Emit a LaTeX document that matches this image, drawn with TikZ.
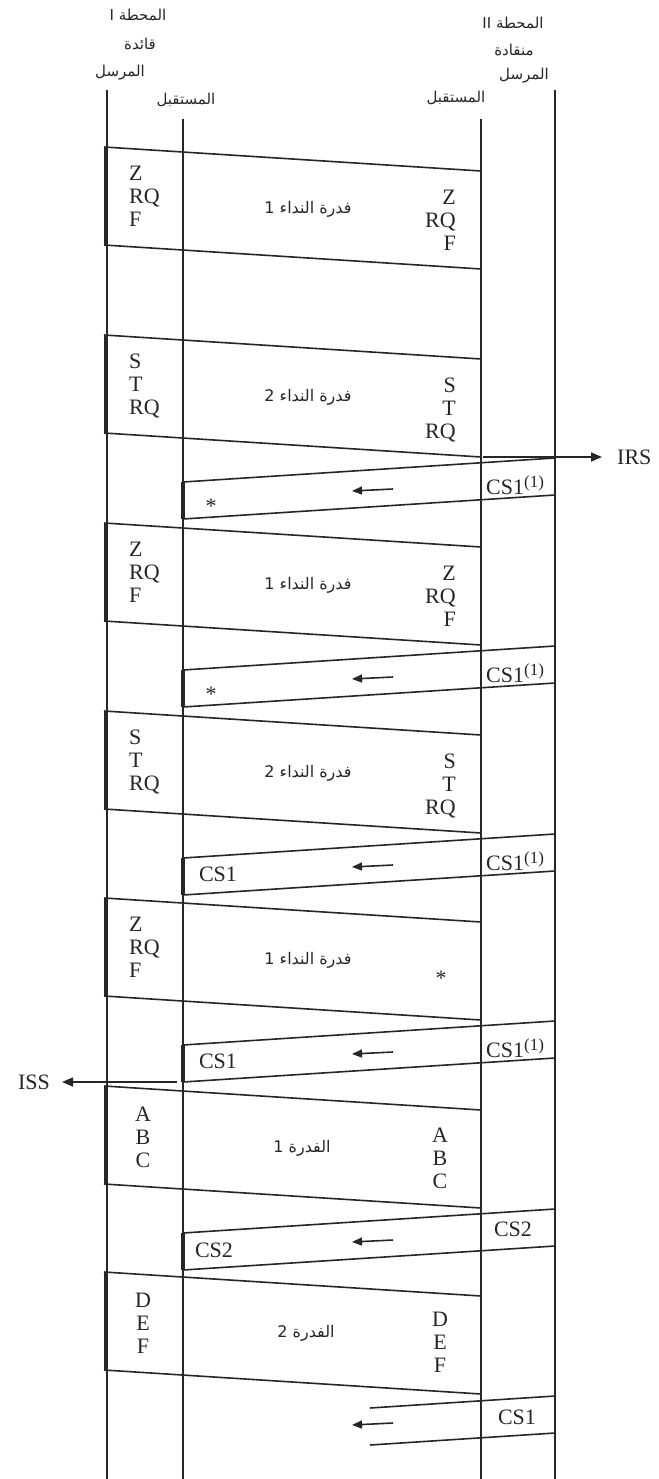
\documentclass[tikz,border=0pt]{standalone}
\usepackage{fontspec}
\setmainfont{Liberation Serif}
\newfontfamily\arabicfont[Script=Arabic]{DejaVu Sans}
\TeXXeTstate=1
\usetikzlibrary{arrows.meta}

\newcommand{\artext}[1]{{\arabicfont\beginR #1\endR}}
\newcommand{\supone}{\raisebox{7pt}{\fontsize{17}{17}\selectfont(1)}}

% frame sent by station I (sender) to station II (receiver)
\newcommand{\callframe}[2]{%
  \coordinate (#1-tl) at (104,#2);
  \coordinate (#1-tr) at (481,#2+24);
  \coordinate (#1-bl) at (104,#2+98);
  \coordinate (#1-br) at (481,#2+122);
  \coordinate (#1-bt) at (106,#2);
  \coordinate (#1-bb) at (106,#2+98);
  \draw[msg] (#1-tl) -- (#1-tr);
  \draw[msg] (#1-bl) -- (#1-br);
  \draw[bar] (#1-bt) -- (#1-bb);
}

% control signal sent back by station II to station I
\newcommand{\ackframe}[2]{%
  \coordinate (#1-tr) at (555,#2);
  \coordinate (#1-br) at (555,#2+37);
  \coordinate (#1-tl) at (183,#2+24);
  \coordinate (#1-bl) at (183,#2+61);
  \coordinate (#1-as) at (393,#2+31);
  \coordinate (#1-ae) at (352,#2+33);
  \draw[msg] (#1-tr) -- (#1-tl);
  \draw[msg] (#1-br) -- (#1-bl);
  \draw[bar] (#1-tl) -- (#1-bl);
  \draw[msg, -{Triangle[length=10pt,width=8pt]}] (#1-as) -- (#1-ae);
}

\begin{document}
\begin{tikzpicture}[x=1pt, y=-1pt,
  msg/.style={line width=1.6pt, draw=black!85},
  bar/.style={line width=3.2pt, draw=black!85},
  letters/.style={font=\fontsize{22}{23}\selectfont, inner sep=0pt, text=black!85},
  arlabel/.style={font=\fontsize{16}{18}\selectfont, inner sep=0pt, text=black!85},
  head/.style={font=\fontsize{15}{17}\selectfont, inner sep=0pt, text=black!85}]
  \useasboundingbox (0,0) rectangle (658,1479);

  % Stations
  \node[head] (stI) at (138,15) {\artext{المحطة I}};
  \node[head] (leadI) at (140,44) {\artext{قائدة}};
  \node[head] (sendI) at (120,73) {\artext{المرسل}};
  \node[head] (recvI) at (186,100) {\artext{المستقبل}};
  \node[head] (stII) at (513,23) {\artext{المحطة II}};
  \node[head] (leadII) at (514,50) {\artext{منقادة}};
  \node[head] (sendII) at (524,76) {\artext{المرسل}};
  \node[head] (recvII) at (456,98) {\artext{المستقبل}};

  % Lifelines
  \coordinate (sI-top) at (107,90);
  \coordinate (sI-bot) at (107,1479);
  \coordinate (rI-top) at (183,119);
  \coordinate (rI-bot) at (183,1479);
  \coordinate (rII-top) at (481,119);
  \coordinate (rII-bot) at (481,1479);
  \coordinate (sII-top) at (555,90);
  \coordinate (sII-bot) at (555,1479);
  \draw[msg] (sI-top) -- (sI-bot);
  \draw[msg] (rI-top) -- (rI-bot);
  \draw[msg] (rII-top) -- (rII-bot);
  \draw[msg] (sII-top) -- (sII-bot);

  % Call block 1
  \callframe{b1}{147}
  \node[letters, anchor=north west, align=left] (b1-l) at (129,166) {Z\\RQ\\F};
  \node[letters, anchor=north east, align=right] (b1-r) at (456,190) {Z\\RQ\\F};
  \node[arlabel] (b1-c) at (308,209) {\artext{فدرة النداء 1}};

  % Call block 2
  \callframe{b2}{335}
  \node[letters, anchor=north west, align=left] (b2-l) at (129,354) {S\\T\\RQ};
  \node[letters, anchor=north east, align=right] (b2-r) at (456,378) {S\\T\\RQ};
  \node[arlabel] (b2-c) at (308,397) {\artext{فدرة النداء 2}};

  % IRS
  \coordinate (irs-s) at (483,457);
  \node[letters, anchor=west] (irs) at (617,457) {IRS};
  \draw[msg, -{Triangle[length=11pt,width=9pt]}, shorten >=15pt] (irs-s) -- (irs.west);

  % Answer 1
  \ackframe{a1}{458}
  \node[letters] (a1-l) at (211,506) {*};
  \node[letters, anchor=base west] (a1-r) at (486,494) {CS1\supone};

  % Call block 3
  \callframe{b3}{523}
  \node[letters, anchor=north west, align=left] (b3-l) at (129,542) {Z\\RQ\\F};
  \node[letters, anchor=north east, align=right] (b3-r) at (456,566) {Z\\RQ\\F};
  \node[arlabel] (b3-c) at (308,585) {\artext{فدرة النداء 1}};

  % Answer 2
  \ackframe{a2}{646}
  \node[letters] (a2-l) at (211,694) {*};
  \node[letters, anchor=base west] (a2-r) at (486,682) {CS1\supone};

  % Call block 4
  \callframe{b4}{711}
  \node[letters, anchor=north west, align=left] (b4-l) at (129,730) {S\\T\\RQ};
  \node[letters, anchor=north east, align=right] (b4-r) at (456,754) {S\\T\\RQ};
  \node[arlabel] (b4-c) at (308,773) {\artext{فدرة النداء 2}};

  % Answer 3
  \ackframe{a3}{834}
  \node[letters] (a3-l) at (218,874) {CS1};
  \node[letters, anchor=base west] (a3-r) at (486,870) {CS1\supone};

  % Call block 5
  \callframe{b5}{898}
  \node[letters, anchor=north west, align=left] (b5-l) at (129,917) {Z\\RQ\\F};
  \node[letters] (b5-r) at (441,978) {*};
  \node[arlabel] (b5-c) at (308,960) {\artext{فدرة النداء 1}};

  % Answer 4
  \ackframe{a4}{1021}
  \node[letters] (a4-l) at (218,1061) {CS1};
  \node[letters, anchor=base west] (a4-r) at (486,1057) {CS1\supone};

  % ISS
  \coordinate (iss-s) at (177,1082);
  \node[letters, anchor=east] (iss) at (50,1082) {ISS};
  \draw[msg, -{Triangle[length=11pt,width=9pt]}, shorten >=12pt] (iss-s) -- (iss.east);

  % Block 1
  \callframe{b6}{1086}
  \node[letters, anchor=north, align=center] (b6-l) at (143,1107) {A\\B\\C};
  \node[letters, anchor=north, align=center] (b6-r) at (440,1128) {A\\B\\C};
  \node[arlabel] (b6-c) at (302,1148) {\artext{الفدرة 1}};

  % Answer 5
  \ackframe{a5}{1209}
  \node[letters] (a5-l) at (214,1250) {CS2};
  \node[letters] (a5-r) at (513,1229) {CS2};

  % Block 2
  \callframe{b7}{1272}
  \node[letters, anchor=north, align=center] (b7-l) at (143,1293) {D\\E\\F};
  \node[letters, anchor=north, align=center] (b7-r) at (440,1312) {D\\E\\F};
  \node[arlabel] (b7-c) at (306,1333) {\artext{الفدرة 2}};

  % Answer 6
  \coordinate (a6-tr) at (555,1396);
  \coordinate (a6-tl) at (370,1408);
  \coordinate (a6-br) at (555,1433);
  \coordinate (a6-bl) at (370,1445);
  \coordinate (a6-as) at (393,1423);
  \coordinate (a6-ae) at (352,1425);
  \draw[msg] (a6-tr) -- (a6-tl);
  \draw[msg] (a6-br) -- (a6-bl);
  \draw[msg, -{Triangle[length=10pt,width=8pt]}] (a6-as) -- (a6-ae);
  \node[letters] (a6-r) at (517,1417) {CS1};
\end{tikzpicture}
\end{document}
